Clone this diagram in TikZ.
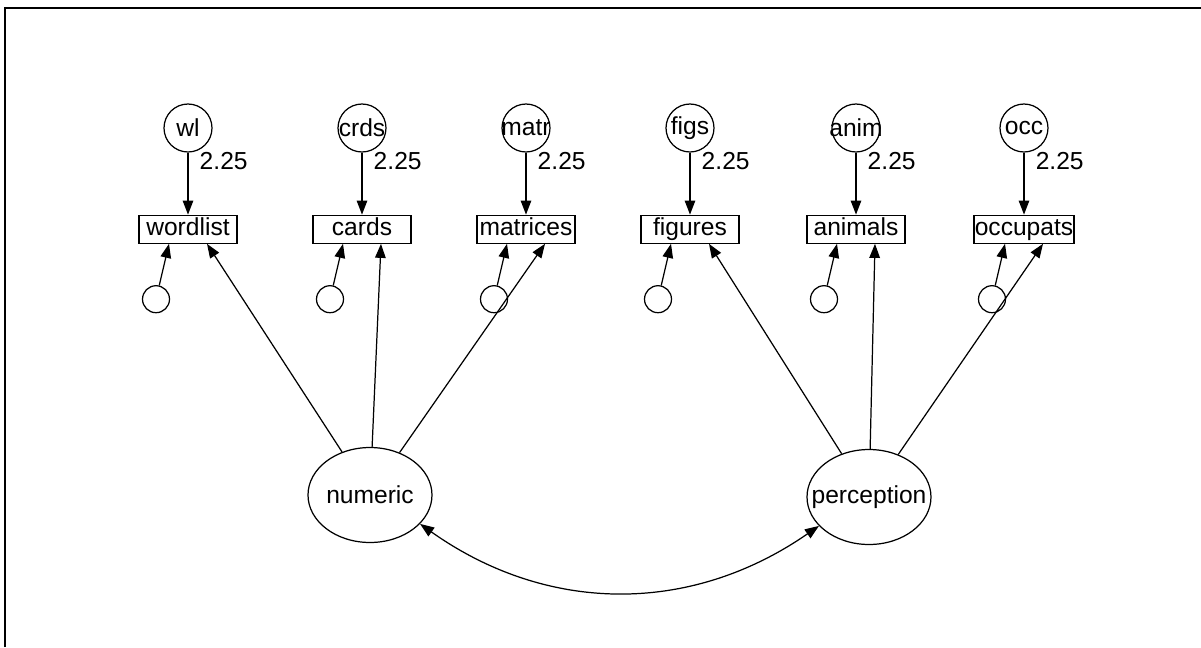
\documentclass[tikz,border=0pt]{standalone}
\usepackage{fontspec}
\setmainfont{Liberation Sans}
\usetikzlibrary{positioning,shapes.geometric,arrows.meta}

\begin{document}
\begin{tikzpicture}[x=0.02cm, y=-0.02cm, line width=0.7pt,
  >={Triangle[length=8pt,width=6pt]},
  font=\fontsize{14}{16}\selectfont,
  errvar/.style={circle, draw, minimum size=0.96cm, inner sep=0pt},
  indicator/.style={draw, minimum width=1.96cm, minimum height=0.56cm,
    text height=1.6ex, text depth=0.3ex, inner sep=0.5pt},
  residual/.style={circle, draw, minimum size=0.54cm, inner sep=0pt},
  factor/.style={ellipse, draw, minimum width=2.48cm, minimum height=1.9cm, inner sep=0pt}]

\useasboundingbox (0,0) rectangle (1201,647);
\draw[line width=1.3pt] (5,647) -- (5,8) -- (1201,8);

\node[factor] (numeric) at (370,495) {\makebox[0pt]{numeric}};
\node[factor] (perception) at (869,497) {\makebox[0pt]{perception}};

\foreach \x/\e/\v/\f in {188/wl/wordlist/numeric, 362/crds/cards/numeric,
    526/matr/matrices/numeric, 690/figs/figures/perception,
    856/anim/animals/perception, 1024/occ/occupats/perception}{
  \node[errvar] (\e) at (\x,128) {\makebox[0pt]{\e}};
  \node[indicator, below=1.24cm of \e] (\v) {\v};
  \node[residual] (r\v) at ([xshift=-0.64cm, yshift=-1.4cm]\v) {};
  \draw[->] (\e) -- node[pos=0.14, right=3pt] {2.25} (\v);
  \draw[->] (r\v) -- ([xshift=-0.38cm]\v.south);
  \draw[->] (\f) -- ([xshift=0.38cm]\v.south);
}

\draw[<->] (numeric.-30) to[bend right=35] (perception.-150);

\end{tikzpicture}
\end{document}
